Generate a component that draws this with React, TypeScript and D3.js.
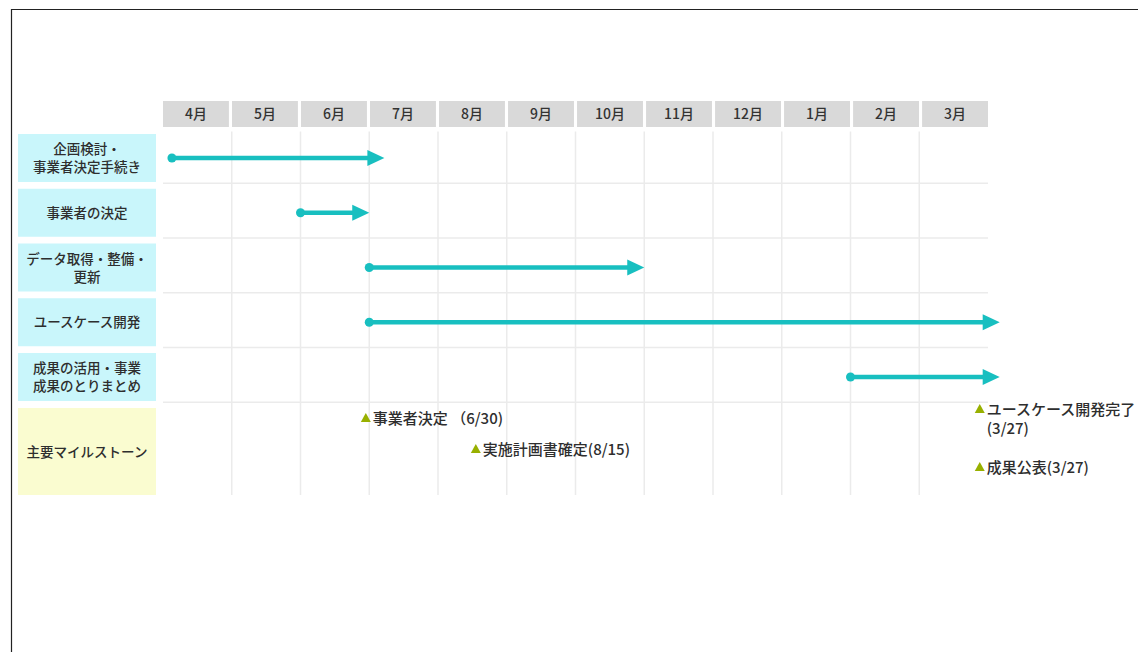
import React from "react";
import * as d3 from "d3";

const months = ["4月", "5月", "6月", "7月", "8月", "9月", "10月", "11月", "12月", "1月", "2月", "3月"];
const taskLabels = [
  ["企画検討・", "事業者決定手続き"],
  ["事業者の決定"],
  ["データ取得・整備・", "更新"],
  ["ユースケース開発"],
  ["成果の活用・事業", "成果のとりまとめ"],
];
// month-index positions (0 = start of April)
const taskStart = [0.13, 2.0, 3.0, 3.0, 10.0];
const taskEnd = [3.22, 3.0, 7.0, 12.17, 12.17];
const milestoneRowLabel = "主要マイルストーン";
const milestoneLabels = [
  ["事業者決定 （6/30)"],
  ["実施計画書確定(8/15)"],
  ["ユースケース開発完了", "(3/27)"],
  ["成果公表(3/27)"],
];
const milestoneDates = [2.95, 4.55, 11.88, 11.88];

// layout
const W = 1138, H = 652;
const gridLeft = 163, gridRight = 988;
const headerTop = 101, headerH = 26;
const rowTop = 131.5, rowPitch = 54.75, boxH = 48;
const msTop = 406, msBottom = 495;
const labelLeft = 18, labelRight = 156;
const msOffsets = [12, 43, 3, 61];

const FONT = "'Noto Sans CJK JP', 'Noto Sans', sans-serif";
const TEAL = "#18bfc0";
const TEXT = "#2e2e2e";

export default function App() {
  const x = d3.scaleLinear().domain([0, 12]).range([gridLeft, gridRight]);
  const band = d3.scaleBand<string>().domain(months).range([gridLeft, gridRight]).paddingInner(0.045).paddingOuter(0);
  const rowY = d3.scaleLinear().domain([0, 1]).range([rowTop, rowTop + rowPitch]);

  const headLen = 17, headHalf = 8;

  return (
    <svg width={W} height={H} style={{ position: "absolute", left: 0, top: 0, background: "#fff" }} fontFamily={FONT}>
      <rect x={0} y={0} width={W} height={H} fill="#fff" />
      {/* frame */}
      <line x1={11} y1={9.5} x2={W} y2={9.5} stroke="#222" strokeWidth={1.2} />
      <line x1={11.5} y1={9} x2={11.5} y2={H} stroke="#222" strokeWidth={1.2} />

      {/* header */}
      {months.map((m) => (
        <g key={m}>
          <rect x={band(m)} y={headerTop} width={band.bandwidth()} height={headerH} fill="#d9d9d9" />
          <text x={(band(m) as number) + band.bandwidth() / 2} y={headerTop + headerH / 2 + 5} textAnchor="middle" fontSize={14} fill="#333" fontWeight={500}>{m}</text>
        </g>
      ))}

      {/* vertical grid */}
      {d3.range(1, 12).map((i) => (
        <line key={"v" + i} x1={x(i)} x2={x(i)} y1={rowTop} y2={msBottom} stroke="#ebebeb" strokeWidth={1.5} />
      ))}
      {/* horizontal grid */}
      {d3.range(0, 5).map((i) => (
        <line key={"h" + i} x1={gridLeft} x2={gridRight} y1={rowY(i + 1) - 3} y2={rowY(i + 1) - 3} stroke="#ebebeb" strokeWidth={1.5} />
      ))}

      {/* task labels */}
      {taskLabels.map((lines, i) => {
        const top = rowY(i) + 2.5;
        const cy = top + boxH / 2;
        return (
          <g key={"t" + i}>
            <rect x={labelLeft} y={top} width={labelRight - labelLeft} height={boxH} fill="#c9f6fb" />
            {lines.map((ln, j) => (
              <text key={j} x={(labelLeft + labelRight) / 2} y={cy + 5 + (j - (lines.length - 1) / 2) * 18} textAnchor="middle" fontSize={13.5} fill={TEXT} fontWeight={500}>{ln}</text>
            ))}
          </g>
        );
      })}

      {/* milestone row label */}
      <rect x={labelLeft} y={msTop + 2} width={labelRight - labelLeft} height={msBottom - msTop - 2} fill="#fafcd0" />
      <text x={(labelLeft + labelRight) / 2} y={(msTop + msBottom) / 2 + 6} textAnchor="middle" fontSize={13.5} fill={TEXT} fontWeight={500}>{milestoneRowLabel}</text>

      {/* arrows */}
      {taskStart.map((s, i) => {
        const y = rowY(i) + 2.5 + boxH / 2;
        const x0 = x(s), x1 = x(taskEnd[i]);
        return (
          <g key={"a" + i}>
            <line x1={x0} x2={x1 - headLen + 1} y1={y} y2={y} stroke={TEAL} strokeWidth={4.5} />
            <circle cx={x0} cy={y} r={4.5} fill={TEAL} />
            <path d={`M${x1 - headLen},${y - headHalf}L${x1},${y}L${x1 - headLen},${y + headHalf}Z`} fill={TEAL} />
          </g>
        );
      })}

      {/* milestones */}
      {milestoneDates.map((d, i) => {
        const cx = x(d);
        const cy = msTop + msOffsets[i];
        return (
          <g key={"m" + i}>
            <path d={`M${cx - 5},${cy + 4}L${cx},${cy - 5}L${cx + 5},${cy + 4}Z`} fill="#98b000" />
            {milestoneLabels[i].map((ln, j) => (
              <text key={j} x={cx + 7} y={cy + 5.5 + j * 19} fontSize={15} fill={TEXT} fontWeight={500}>{ln}</text>
            ))}
          </g>
        );
      })}
    </svg>
  );
}
